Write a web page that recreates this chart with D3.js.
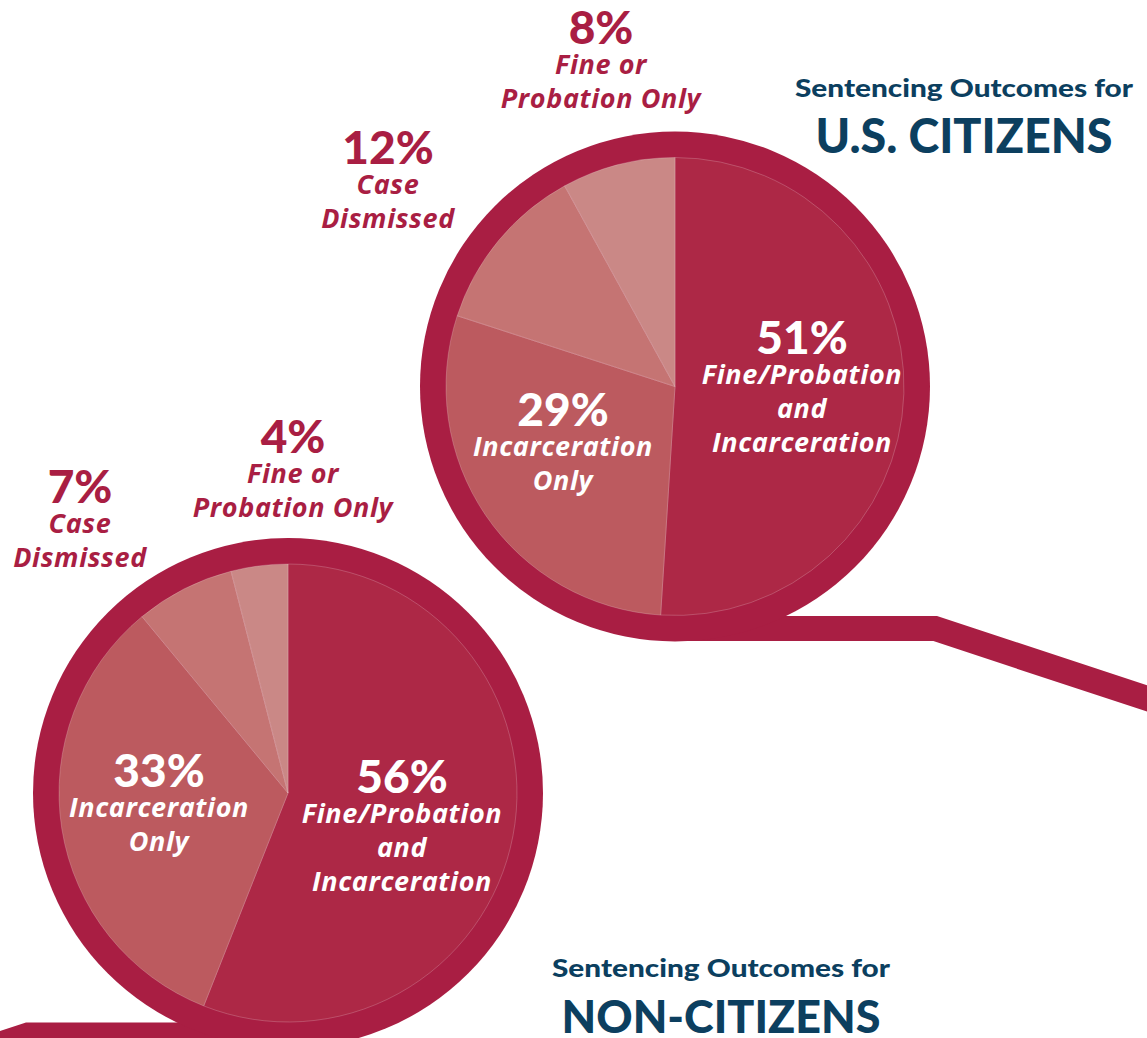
<!DOCTYPE html>
<meta charset="utf-8">
<style>
body { margin: 0; background: #fff; }
.pct { font-family: Lato, sans-serif; font-weight: 900; }
.lbl { font-family: "Open Sans", sans-serif; font-weight: 700; font-style: italic; letter-spacing: 0.6px; }
.title { font-family: Lato, sans-serif; font-weight: 900; fill: #0c3f5f; }
</style>
<svg width="1147" height="1038"></svg>
<script src="https://d3js.org/d3.v7.min.js"></script>
<script>

var categories = ["Fine/Probation and Incarceration", "Incarceration Only", "Case Dismissed", "Fine or Probation Only"];
var citizenValues = [51, 29, 12, 8];
var nonCitizenValues = [56, 33, 7, 4];
var labelLines = [["Fine/Probation", "and", "Incarceration"], ["Incarceration", "Only"], ["Case", "Dismissed"], ["Fine or", "Probation Only"]];
var citizenTitle = ["Sentencing Outcomes for", "U.S. CITIZENS"];
var nonCitizenTitle = ["Sentencing Outcomes for", "NON-CITIZENS"];

var ringColor = "#a91e43",
    sliceColors = ["#ad2846", "#bc5a5f", "#c57473", "#ca8886"];

var svg = d3.select("svg"),
    rInner = 229,
    rOuter = 255;

var color = d3.scaleOrdinal().domain(categories).range(sliceColors);

var pie = d3.pie().sort(null).value(function(d) { return d.value; });
var arc = d3.arc().innerRadius(0).outerRadius(rInner);

// label anchors (x offset, baseline of the % line) relative to the pie center
var charts = [
  { values: citizenValues, cx: 675, cy: 386.5, dir: 1,
    title: citizenTitle, titleX: 964, titleY: [97, 153], titleW: [338, 297], titleSize: [24, 48],
    anchors: [[127, -33], [-112, 39], [-287, -223], [-74, -343]], inside: [true, true, false, false] },
  { values: nonCitizenValues, cx: 288, cy: 793, dir: -1,
    title: nonCitizenTitle, titleX: 721, titleY: [977, 1033], titleW: [338, 319], titleSize: [24, 45],
    anchors: [[114, 0], [-129, -6], [-208, -290], [5, -340]], inside: [true, true, false, false] }
];

charts.forEach(function(c) {
  var data = c.values.map(function(v, i) { return { key: categories[i], value: v, lines: labelLines[i] }; });

  // handle of the magnifier
  var hy = c.cy + 242,
      bx = c.cx + c.dir * 260,
      ex = c.dir > 0 ? 1200 : -60;
  svg.append("path")
      .attr("d", "M" + c.cx + "," + hy + "L" + bx + "," + hy + "L" + ex + "," + (hy + Math.abs(ex - bx) * 0.33))
      .attr("fill", "none")
      .attr("stroke", ringColor)
      .attr("stroke-width", 25)
      .attr("stroke-linejoin", "miter");

  var g = svg.append("g")
      .attr("transform", "translate(" + c.cx + "," + c.cy + ")");

  g.append("circle")
      .attr("r", rOuter)
      .attr("fill", ringColor);

  g.selectAll(".slice")
    .data(pie(data))
    .enter().append("path")
      .attr("class", "slice")
      .attr("d", arc)
      .attr("fill", function(d) { return color(d.data.key); })
      .attr("stroke", "rgba(255,255,255,0.2)")
      .attr("stroke-width", 1);

  data.forEach(function(d, i) {
    var a = c.anchors[i],
        fill = c.inside[i] ? "#fff" : ringColor;
    var t = g.append("g").attr("transform", "translate(" + a[0] + "," + a[1] + ")");
    t.append("text")
        .attr("class", "pct")
        .attr("text-anchor", "middle")
        .attr("font-size", 46)
        .attr("fill", fill)
        .text(d.value + "%");
    d.lines.forEach(function(line, j) {
      t.append("text")
          .attr("class", "lbl")
          .attr("text-anchor", "middle")
          .attr("y", 30 + j * 34)
          .attr("font-size", 27)
          .attr("fill", fill)
          .text(line);
    });
  });

  c.title.forEach(function(line, j) {
    svg.append("text")
        .attr("class", "title")
        .attr("text-anchor", "middle")
        .attr("x", c.titleX)
        .attr("y", c.titleY[j])
        .attr("font-size", c.titleSize[j])
        .attr("textLength", c.titleW[j])
        .attr("lengthAdjust", "spacingAndGlyphs")
        .text(line);
  });
});

</script>
